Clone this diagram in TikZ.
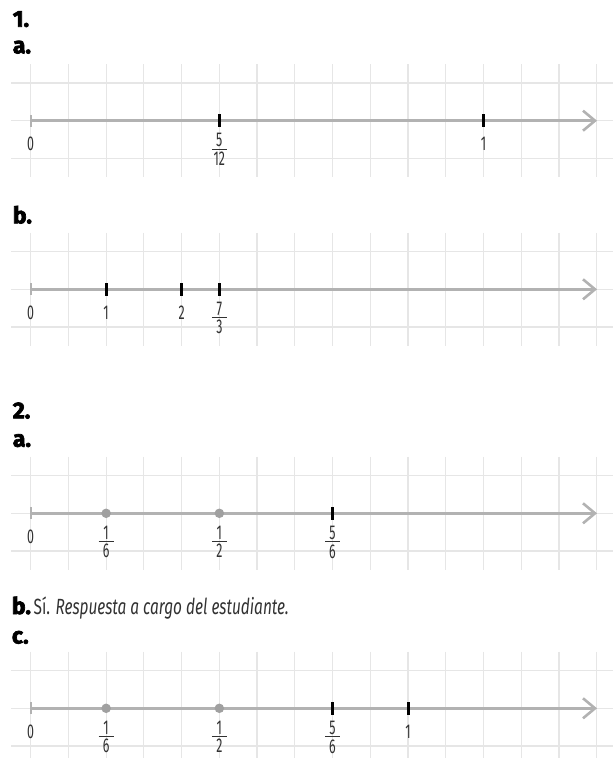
\documentclass[tikz,border=0pt]{standalone}
\usepackage{fontspec}
\setmainfont{Fira Sans}
\newfontfamily\lblfont[FakeStretch=0.62]{Fira Sans}
\newfontfamily\txtfont[FakeStretch=0.70]{Fira Sans}
\newfontfamily\hdrfont[FakeBold=3]{Fira Sans}
\definecolor{gridc}{RGB}{230,230,230}
\definecolor{axisc}{RGB}{178,178,178}
\definecolor{dotc}{RGB}{160,160,160}
\definecolor{lblc}{RGB}{50,50,50}
\newcommand\fr[2]{\vbox{\offinterlineskip\halign{\hfil##\hfil\cr #1\cr\noalign{\kern1.5pt}\rule{15pt}{0.8pt}\cr\noalign{\kern2.5pt}#2\cr}}}
\newcommand\gridat[1]{%
  \foreach \k in {0,...,15}{\draw[gridline] ({30.7+37.73*\k},{#1-56.6}) -- ({30.7+37.73*\k},{#1+56.6});}%
  \foreach \d in {-37.73,0,37.73}{\draw[gridline] (11,{#1+\d}) -- (613,{#1+\d});}%
}
\tikzset{
  gridline/.style={draw=gridc, line width=1.2pt},
  axisline/.style={draw=axisc, line width=2.6pt},
  arrowline/.style={draw=axisc, line width=2.6pt},
  zerotick/.style={rectangle, fill=axisc, minimum width=2pt, minimum height=12pt, inner sep=0pt},
  marktick/.style={rectangle, fill=black, minimum width=3pt, minimum height=13pt, inner sep=0pt},
  markdot/.style={circle, fill=dotc, minimum size=9.5pt, inner sep=0pt},
  numlbl/.style={anchor=base, inner sep=0pt, font=\lblfont\fontsize{20}{24}\selectfont, text=lblc},
  fraclbl/.style={anchor=north, inner sep=0pt, font=\lblfont\fontsize{20}{24}\selectfont, text=lblc},
  header/.style={anchor=base west, inner sep=0pt, font=\hdrfont\bfseries\fontsize{23}{27}\selectfont},
  bodytext/.style={anchor=base west, inner sep=0pt, font=\txtfont\fontsize{22}{26}\selectfont, text=lblc},
}
\begin{document}
\begin{tikzpicture}[x=1pt,y=-1pt]
\useasboundingbox (0,0) rectangle (613,758);
\clip (0,0) rectangle (613,758);

% ---------- 1 ----------
\node[header] (h1) at (12.7,26.7) {1.};
\node[header] (h1a) at (12.7,53.3) {a.};
\gridat{120.7}
\node[zerotick] (tA0) at (30.7,120.7) {};
\coordinate (eA) at (595,120.7);
\draw[axisline] (tA0.center) -- (eA);
\draw[arrowline] (eA) ++(-12,-10) -- (eA) -- ++(-12,10);
\node[marktick] (tA1) at (219.35,120.7) {};
\node[marktick] (tA2) at (483.46,120.7) {};
\node[numlbl] (lA0) at (30.7,150.7) {0};
\node[fraclbl] (lA1) at (219.35,133.2) {\fr{5}{12}};
\node[numlbl] (lA2) at (483.46,150.7) {1};

% ---------- 1b ----------
\node[header] (h1b) at (12.7,223.3) {b.};
\gridat{289.3}
\node[zerotick] (tB0) at (30.7,289.3) {};
\coordinate (eB) at (595,289.3);
\draw[axisline] (tB0.center) -- (eB);
\draw[arrowline] (eB) ++(-12,-10) -- (eB) -- ++(-12,10);
\node[marktick] (tB1) at (106.16,289.3) {};
\node[marktick] (tB2) at (181.62,289.3) {};
\node[marktick] (tB3) at (219.35,289.3) {};
\node[numlbl] (lB0) at (30.7,319.3) {0};
\node[numlbl] (lB1) at (106.16,319.3) {1};
\node[numlbl] (lB2) at (181.62,319.3) {2};
\node[fraclbl] (lB3) at (219.35,301.8) {\fr{7}{3}};

% ---------- 2 ----------
\node[header] (h2) at (12.7,418.3) {2.};
\node[header] (h2a) at (12.7,446.7) {a.};
\gridat{513.3}
\node[zerotick] (tC0) at (30.7,513.3) {};
\coordinate (eC) at (595,513.3);
\draw[axisline] (tC0.center) -- (eC);
\draw[arrowline] (eC) ++(-12,-10) -- (eC) -- ++(-12,10);
\node[markdot] (tC1) at (106.16,513.3) {};
\node[markdot] (tC2) at (219.35,513.3) {};
\node[marktick] (tC3) at (332.54,513.3) {};
\node[numlbl] (lC0) at (30.7,543.3) {0};
\node[fraclbl] (lC1) at (106.16,525.8) {\fr{1}{6}};
\node[fraclbl] (lC2) at (219.35,525.8) {\fr{1}{2}};
\node[fraclbl] (lC3) at (332.54,525.8) {\fr{5}{6}};

% ---------- 2b, 2c ----------
\node[header] (h2b) at (11.7,614) {b.};
\node[bodytext] (t2b) at (33.5,614) {Sí. \textit{Respuesta a cargo del estudiante.}};
\node[header] (h2c) at (11.7,643.5) {c.};
\gridat{708.3}
\node[zerotick] (tD0) at (30.7,708.3) {};
\coordinate (eD) at (595,708.3);
\draw[axisline] (tD0.center) -- (eD);
\draw[arrowline] (eD) ++(-12,-10) -- (eD) -- ++(-12,10);
\node[markdot] (tD1) at (106.16,708.3) {};
\node[markdot] (tD2) at (219.35,708.3) {};
\node[marktick] (tD3) at (332.54,708.3) {};
\node[marktick] (tD4) at (408.0,708.3) {};
\node[numlbl] (lD0) at (30.7,738.3) {0};
\node[fraclbl] (lD1) at (106.16,720.8) {\fr{1}{6}};
\node[fraclbl] (lD2) at (219.35,720.8) {\fr{1}{2}};
\node[fraclbl] (lD3) at (332.54,720.8) {\fr{5}{6}};
\node[numlbl] (lD4) at (408.0,738.3) {1};
\end{tikzpicture}
\end{document}
